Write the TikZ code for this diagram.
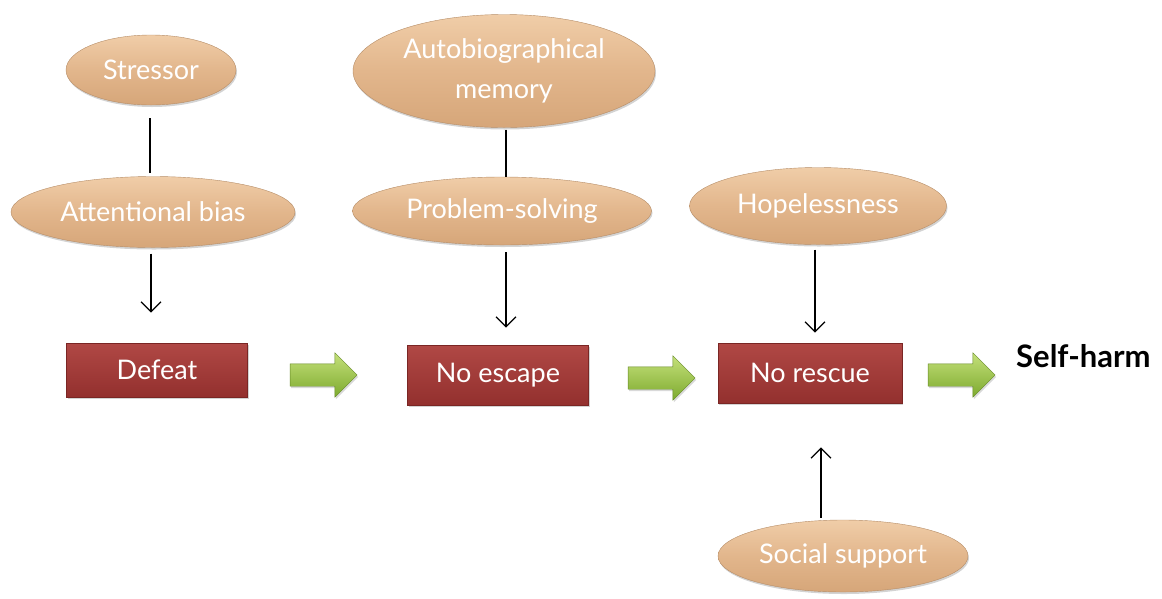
\documentclass[tikz,border=0pt]{standalone}
\usepackage{fontspec}
\setmainfont{Lato}
\usetikzlibrary{shapes.geometric,shapes.arrows,arrows.meta,shadows,calc}
\definecolor{tanlight}{HTML}{F0CDA8}
\definecolor{tanmid}{HTML}{E2B68C}
\definecolor{tandark}{HTML}{D6A679}
\definecolor{redtop}{HTML}{B04845}
\definecolor{redbot}{HTML}{93302E}
\definecolor{rededge}{HTML}{7A2624}
\definecolor{greenlight}{HTML}{C4E07A}
\definecolor{greendark}{HTML}{7DAA2E}
\tikzset{
  oval/.style={ellipse, inner sep=0pt, top color=tanlight, bottom color=tandark, middle color=tanmid,
    draw=tandark!85!black, line width=0.4pt, text=white, font=\fontsize{27}{40}\selectfont,
    align=center, drop shadow={shadow xshift=1pt, shadow yshift=-2pt, opacity=0.35}},
  box/.style={rectangle, inner sep=0pt, top color=redtop, bottom color=redbot, draw=rededge,
    line width=0.6pt, text=white, font=\fontsize{27}{32}\selectfont,
    drop shadow={shadow xshift=1pt, shadow yshift=-2pt, opacity=0.35}},
  garrow/.style={single arrow, minimum height=67pt, inner sep=11pt, single arrow head extend=11pt,
    top color=greenlight, bottom color=greendark, draw=greendark!80!black, line width=0.4pt,
    drop shadow={shadow xshift=1pt, shadow yshift=-2pt, opacity=0.3}},
  conn/.style={line width=1.3pt, black},
  arr/.style={conn, -{Straight Barb[length=10pt,width=20pt,line width=1.3pt]}},
}
\begin{document}
\begin{tikzpicture}[x=1pt,y=-1pt]
\useasboundingbox (0,0) rectangle (1162,598);
% ovals
\node[oval, minimum width=170pt, minimum height=70pt] (stressor) at (151,70) {Stressor};
\node[oval, minimum width=284pt, minimum height=71pt] (attn) at (153,212) {Attentional bias};
\node[oval, minimum width=302pt, minimum height=113pt] (auto) at (504,71) {Autobiographical\\memory};
\node[oval, minimum width=299pt, minimum height=68pt] (prob) at (502,211) {Problem-solving};
\node[oval, minimum width=257pt, minimum height=77pt] (hope) at (818,206) {Hopelessness};
\node[oval, minimum width=250pt, minimum height=72pt] (social) at (843,556) {Social support};
% boxes
\node[box, minimum width=181pt, minimum height=54pt] (defeat) at (157,370) {Defeat};
\node[box, minimum width=181pt, minimum height=60pt] (noescape) at (498,375) {No escape};
\node[box, minimum width=184pt, minimum height=60pt] (norescue) at (810,373) {No rescue};
% green arrows
\node[garrow] (g1) at (318,375) {};
\node[garrow] (g2) at (656,378) {};
\node[garrow] (g3) at (956,375) {};
% outcome
\node[font=\bfseries\fontsize{31}{36}\selectfont, anchor=west, inner sep=0pt] (selfharm) at (1016,356) {Self-harm};
% connectors
\draw[conn, shorten <=13pt, shorten >=3pt] ([xshift=-1pt]stressor.south) -- ([xshift=-1pt]stressor.south |- attn.north);
\draw[arr, shorten <=6pt, shorten >=30pt] ([xshift=-2pt]attn.south) -- ([xshift=-2pt]attn.south |- defeat.north);
\draw[conn, shorten <=2pt, shorten >=0pt] ([xshift=2pt]auto.south) -- ([xshift=2pt]auto.south |- prob.north);
\draw[arr, shorten <=7pt, shorten >=17pt] ([xshift=4pt]prob.south) -- ([xshift=4pt]prob.south |- noescape.north);
\draw[arr, shorten <=5pt, shorten >=10pt] ([xshift=-3pt]hope.south) -- ([xshift=-3pt]hope.south |- norescue.north);
\draw[arr, shorten <=2pt, shorten >=44pt] ([xshift=11pt]norescue.south |- social.north) -- ([xshift=11pt]norescue.south);
\end{tikzpicture}
\end{document}
